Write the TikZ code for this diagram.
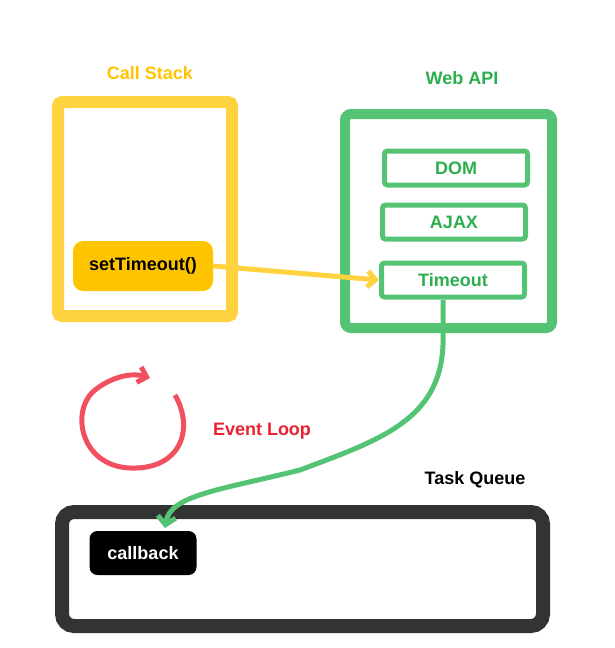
\documentclass[tikz,border=0pt]{standalone}
\usepackage{fontspec}
\setmainfont{Liberation Sans}
\usetikzlibrary{arrows.meta}
\definecolor{ylw}{HTML}{FFD23F}
\definecolor{ylwd}{HTML}{FFC400}
\definecolor{grn}{HTML}{55C374}
\definecolor{grnt}{HTML}{2DAE4E}
\definecolor{rd}{HTML}{F0505F}
\definecolor{rdt}{HTML}{E8202F}
\definecolor{blk}{HTML}{333333}
\begin{document}
\begin{tikzpicture}[x=1pt,y=-1pt,
  lbl/.style={font=\bfseries\fontsize{18}{20}\selectfont},
  inner/.style={draw=grn,line width=5pt,rounded corners=3pt,minimum width=143pt,minimum height=34pt,lbl,text=grnt}]
\useasboundingbox (0,0) rectangle (614,648);
\node[lbl,text=ylwd] (cst) at (150,73) {Call Stack};
\draw[ylw,line width=12pt,rounded corners=4pt] (58,102) rectangle (232,316);
\node[lbl,fill=ylwd,rounded corners=10pt,minimum width=140pt,minimum height=50pt] (st) at (143,266) {setTimeout()};
\node[lbl,text=grnt] (web) at (462,78) {Web API};
\draw[grn,line width=10pt,rounded corners=6pt] (345,114) rectangle (552,328);
\node[inner] (dom) at (456,168) {DOM};
\node[inner] (ajax) at (454,222) {AJAX};
\node[inner] (to) at (453,280) {Timeout};
\draw[ylw,line width=5pt,-{Straight Barb[length=8pt,width=16pt]}] (st.east) -- (to.west);
\node[lbl,text=rdt] (ev) at (262,431) {Event Loop};
\node[lbl,text=black] (tq) at (475,480) {Task Queue};
\draw[blk,line width=14pt,rounded corners=12pt] (62,512) rectangle (543,626);
\node[lbl,text=white,fill=black,rounded corners=8pt,minimum width=107pt,minimum height=44pt] (cb) at (143,553) {callback};
\draw[grn,line width=5pt,-{Straight Barb[length=8pt,width=18pt]}] (443,300) -- (443,345) .. controls (440,420) and (380,440) .. (300,470) .. controls (220,490) and (170,495) .. (165,528);
\draw[rd,line width=5pt,-{Straight Barb[length=8pt,width=16pt]}] (175,395) .. controls (195,430) and (180,470) .. (130,468) .. controls (80,466) and (70,410) .. (95,390) .. controls (110,378) and (130,372) .. (150,378);
\end{tikzpicture}
\end{document}
